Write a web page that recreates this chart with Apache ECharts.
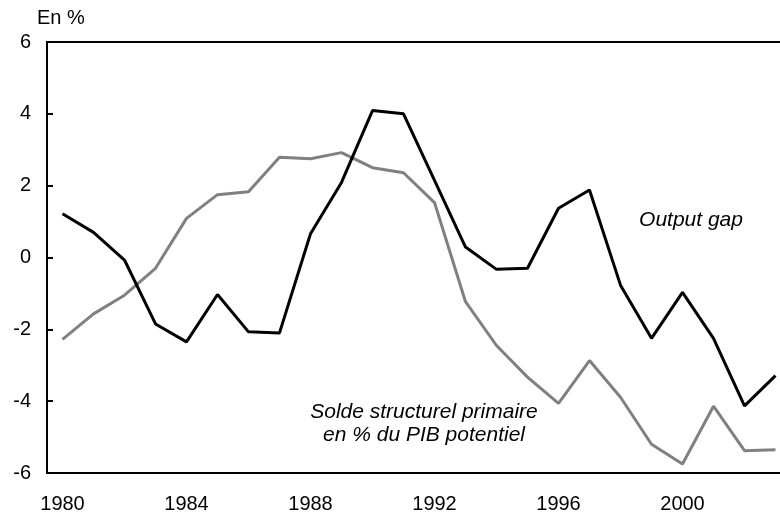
<!DOCTYPE html>
<html>
<head>
<meta charset="utf-8">
<script src="https://cdn.jsdelivr.net/npm/echarts@6/dist/echarts.min.js"></script>
<style>
	html, body { margin: 0; padding: 0; background: #fff; overflow: hidden; }
	/* le graphique déborde un peu à droite, comme l'original */
	#main { width: 792px; height: 518px; }
</style>
</head>
<body>
<div id="main"></div>
<script>
	// années 1980 - 2003
	var years = ['1980','1981','1982','1983','1984','1985','1986','1987','1988','1989','1990','1991',
		'1992','1993','1994','1995','1996','1997','1998','1999','2000','2001','2002','2003'];
	// Output gap (en %)
	var outputGap = [1.22, 0.70, -0.07, -1.85, -2.35, -1.03, -2.07, -2.10, 0.66, 2.09, 4.09, 4.00,
		2.15, 0.29, -0.33, -0.30, 1.37, 1.88, -0.77, -2.25, -0.97, -2.25, -4.13, -3.29];
	// Solde structurel primaire en % du PIB potentiel
	var soldeStructurel = [-2.28, -1.57, -1.05, -0.30, 1.09, 1.75, 1.83, 2.79, 2.75, 2.92, 2.50, 2.36,
		1.53, -1.23, -2.45, -3.33, -4.06, -2.87, -3.89, -5.20, -5.75, -4.14, -5.38, -5.35];
	var yTicks = [-6, -4, -2, 0, 2, 4, 6];

	var font = 'Liberation Sans, Arial, sans-serif';
	var chart = echarts.init(document.getElementById('main'));
	var option = {
		animation: false,
		grid: {
			left: 47,
			top: 42,
			right: 1,
			bottom: 45,
			show: true,
			borderColor: '#000',
			borderWidth: 2
		},
		xAxis: {
			type: 'category',
			data: years,
			boundaryGap: true,
			axisLine: { onZero: false, lineStyle: { color: '#000', width: 2 } },
			axisTick: { inside: true, length: 6, interval: 3, lineStyle: { color: '#000', width: 2 } },
			axisLabel: { interval: 3, color: '#000', fontSize: 20, fontFamily: font, margin: 21 },
			splitLine: { show: false }
		},
		yAxis: {
			type: 'value',
			min: yTicks[0],
			max: yTicks[yTicks.length - 1],
			interval: 2,
			axisLine: { show: true, lineStyle: { color: '#000', width: 2 } },
			axisTick: { show: true, inside: true, length: 6, lineStyle: { color: '#000', width: 2 } },
			axisLabel: { color: '#000', fontSize: 20, fontFamily: font, margin: 16 },
			splitLine: { show: false }
		},
		series: [
			{
				name: 'Output gap',
				type: 'line',
				data: outputGap,
				symbol: 'none',
				z: 3,
				lineStyle: { color: '#000', width: 3 }
			},
			{
				name: 'Solde structurel primaire en % du PIB potentiel',
				type: 'line',
				data: soldeStructurel,
				symbol: 'none',
				z: 2,
				lineStyle: { color: '#808080', width: 3 }
			}
		],
		graphic: [
			{
				type: 'text', left: 37, top: 8,
				style: { text: 'En %', font: '20px ' + font, fill: '#000' }
			},
			{
				type: 'text', x: 691, y: 220,
				style: { text: 'Output gap', font: 'italic 21px ' + font, fill: '#000',
					textAlign: 'center', textVerticalAlign: 'middle' }
			},
			{
				type: 'text', x: 424, y: 424,
				style: { text: 'Solde structurel primaire\nen % du PIB potentiel', font: 'italic 21px ' + font,
					fill: '#000', textAlign: 'center', textVerticalAlign: 'middle', lineHeight: 23 }
			}
		]
	};
	chart.setOption(option);
</script>
</body>
</html>
